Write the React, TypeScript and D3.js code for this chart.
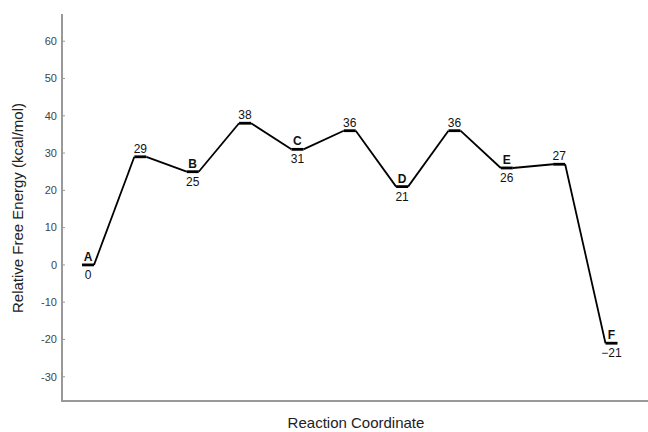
import React from "react";
import * as d3 from "d3";

const stateLetters = ["A", "", "B", "", "C", "", "D", "", "E", "", "F"];
const energies = [0, 29, 25, 38, 31, 36, 21, 36, 26, 27, -21];
const valueLabels = ["0", "29", "25", "38", "31", "36", "21", "36", "26", "27", "−21"];
const yTicks = [-30, -20, -10, 0, 10, 20, 30, 40, 50, 60];

const W = 648;
const H = 432;
const FONT = "'Liberation Sans', Arial, Helvetica, sans-serif";

export default function App() {
  const x = d3.scaleLinear().domain([0, energies.length - 1]).range([88, 611.5]);
  const y = d3.scaleLinear().domain([-36.5, 67.3]).range([401, 14]);
  const half = 6;
  const axisX = 62;
  const axisY = y(-36.5);

  const connectors = energies.slice(0, -1).map((e, i) => ({
    x1: x(i) + half,
    y1: y(e),
    x2: x(i + 1) - half,
    y2: y(energies[i + 1]),
  }));

  return (
    <svg
      width={W}
      height={H}
      style={{ position: "absolute", left: 0, top: 0, background: "#fff" }}
      fontFamily={FONT}
    >
      <rect width={W} height={H} fill="#fff" />
      {/* axes */}
      <line x1={axisX} y1={y(67.3)} x2={axisX} y2={axisY} stroke="#999" strokeWidth={2} />
      <line x1={axisX - 1} y1={axisY} x2={W} y2={axisY} stroke="#999" strokeWidth={2} />
      {yTicks.map((t) => (
        <g key={t}>
          <line x1={axisX} x2={axisX + 3} y1={y(t)} y2={y(t)} stroke="#999" strokeWidth={1} />
          <text
            x={57}
            y={y(t)}
            dy="0.35em"
            textAnchor="end"
            fontSize={11}
            fill="#444"
          >
            {String(t)}
          </text>
        </g>
      ))}
      <text
        transform={`translate(23, 208) rotate(-90)`}
        textAnchor="middle"
        fontSize={15}
        fill="#222"
      >
        Relative Free Energy (kcal/mol)
      </text>
      <text x={356} y={428} textAnchor="middle" fontSize={15} fill="#222">
        Reaction Coordinate
      </text>
      {/* connectors */}
      {connectors.map((c, i) => (
        <line key={i} {...c} stroke="#000" strokeWidth={1.8} />
      ))}
      {/* levels */}
      {energies.map((e, i) => (
        <line
          key={i}
          x1={x(i) - half}
          x2={x(i) + half}
          y1={y(e)}
          y2={y(e)}
          stroke="#000"
          strokeWidth={2.8}
        />
      ))}
      {/* labels */}
      {energies.map((e, i) => {
        const isState = stateLetters[i] !== "";
        return (
          <g key={i}>
            {isState ? (
              <>
                <text x={x(i)} y={y(e) - 4} textAnchor="middle" fontSize={12} fontWeight="bold" fill="#111">
                  {stateLetters[i]}
                </text>
                <text x={x(i)} y={y(e) + 14} textAnchor="middle" fontSize={12} fill="#111">
                  {valueLabels[i]}
                </text>
              </>
            ) : (
              <text x={x(i)} y={y(e) - 4} textAnchor="middle" fontSize={12} fill="#111">
                {valueLabels[i]}
              </text>
            )}
          </g>
        );
      })}
    </svg>
  );
}
